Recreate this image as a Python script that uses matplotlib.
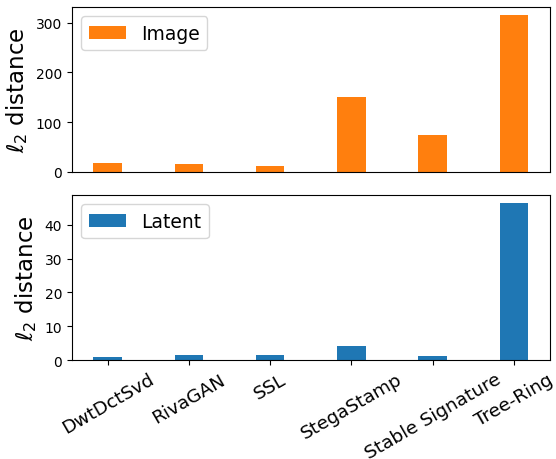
import matplotlib
matplotlib.use("Agg")
import matplotlib.pyplot as plt
import numpy as np

methods = ["DwtDctSvd", "RivaGAN", "SSL", "StegaStamp", "Stable Signature", "Tree-Ring"]
image_dist = [18, 16, 12, 151, 74.5, 316]
latent_dist = [0.9, 1.6, 1.6, 4.25, 1.3, 46.5]

fig, (ax1, ax2) = plt.subplots(2, 1, figsize=(5.56, 4.6), dpi=100, sharex=True)
fig.subplots_adjust(left=0.129, right=0.989, top=0.983, bottom=0.215, hspace=0.139)

x = np.arange(len(methods))
w = 0.35
ax1.bar(x, image_dist, w, color="#ff7f0e", label="Image")
ax2.bar(x, latent_dist, w, color="#1f77b4", label="Latent")

for ax in (ax1, ax2):
    ax.set_ylabel(r"$\ell_2$ distance", fontsize=16.5)
    ax.legend(loc="upper left", fontsize=13.5)
    ax.tick_params(axis="y", labelsize=10)
ax1.tick_params(axis="x", bottom=False, labelbottom=False)
ax2.set_xticks(x)
ax2.set_xticklabels(methods, rotation=30, fontsize=13.3)

fig.savefig("out.png", dpi=100)
